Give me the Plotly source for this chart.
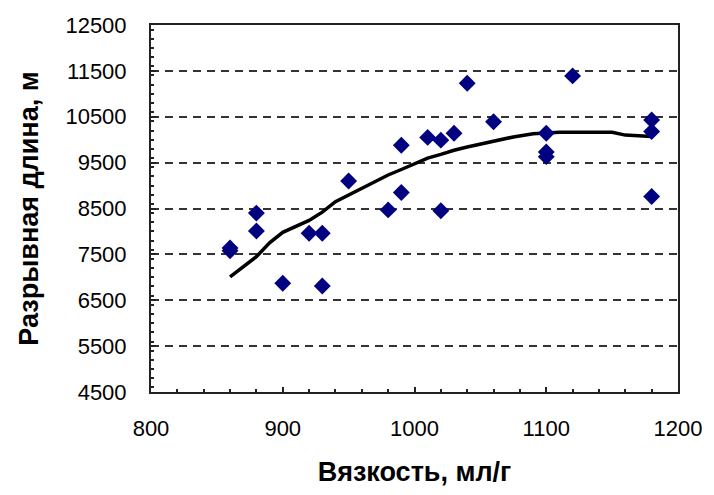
import plotly.graph_objects as go

# Measured samples: viscosity (мл/г) vs breaking length (м)
viscosity = [860, 860, 880, 880, 900, 920, 930, 930, 950, 980, 990, 990,
             1010, 1020, 1020, 1030, 1040, 1060, 1100, 1100, 1100, 1120,
             1180, 1180, 1180]
breaking_length = [7640, 7580, 8400, 8010, 6870, 7960, 7960, 6810, 9100, 8470,
                   9880, 8850, 10050, 9990, 8450, 10140, 11230, 10390, 10140,
                   9730, 9630, 11390, 10430, 10180, 8760]

# Trend line points
trend_x = [860, 870, 880, 890, 900, 920, 930, 940, 950, 970, 980, 990, 1000,
           1010, 1020, 1030, 1040, 1060, 1075, 1090, 1110, 1150, 1160, 1180]
trend_y = [7010, 7230, 7450, 7750, 7980, 8240, 8420, 8650, 8800, 9100, 9230,
           9350, 9480, 9600, 9680, 9770, 9840, 9960, 10060, 10130, 10160,
           10160, 10100, 10070]

x_ticks = [800, 900, 1000, 1100, 1200]
y_ticks = [4500, 5500, 6500, 7500, 8500, 9500, 10500, 11500, 12500]

FONT = "Liberation Sans, Arial, sans-serif"

fig = go.Figure()
fig.add_trace(go.Scatter(
    x=trend_x, y=trend_y, mode="lines",
    line=dict(color="black", width=3.5),
    hoverinfo="skip", showlegend=False,
))
fig.add_trace(go.Scatter(
    x=viscosity, y=breaking_length, mode="markers",
    marker=dict(symbol="diamond", size=13, color="#000080"),
    showlegend=False,
))

fig.update_layout(
    width=714, height=495,
    margin=dict(l=151, r=34, t=25, b=103),
    paper_bgcolor="white", plot_bgcolor="white",
    font=dict(family=FONT, color="black"),
)

fig.update_xaxes(
    range=[800, 1200], tickvals=x_ticks, tickformat="d",
    tickfont=dict(size=22), ticklabelstandoff=16,
    showgrid=False, zeroline=False,
    showline=True, mirror=True, linecolor="#222", linewidth=2,
    ticks="inside", ticklen=5, tickwidth=2, tickcolor="#222",
    minor=dict(dtick=20, ticks="inside", ticklen=3, tickwidth=2, tickcolor="#222"),
    title=dict(text="<b>Вязкость, мл/г</b>", font=dict(size=27), standoff=22),
)
fig.update_yaxes(
    range=[4500, 12500], tickvals=y_ticks, tickformat="d",
    tickfont=dict(size=22), ticklabelstandoff=18,
    showgrid=True, gridcolor="#333", gridwidth=2, griddash="8px,6px",
    zeroline=False,
    showline=True, mirror=True, linecolor="#222", linewidth=2,
    ticks="inside", ticklen=5, tickwidth=2, tickcolor="#222",
    minor=dict(dtick=200, ticks="inside", ticklen=3, tickwidth=2, tickcolor="#222"),
    title=dict(text="<b>Разрывная длина, м</b>", font=dict(size=27), standoff=19),
)

fig.write_html("out.html")
